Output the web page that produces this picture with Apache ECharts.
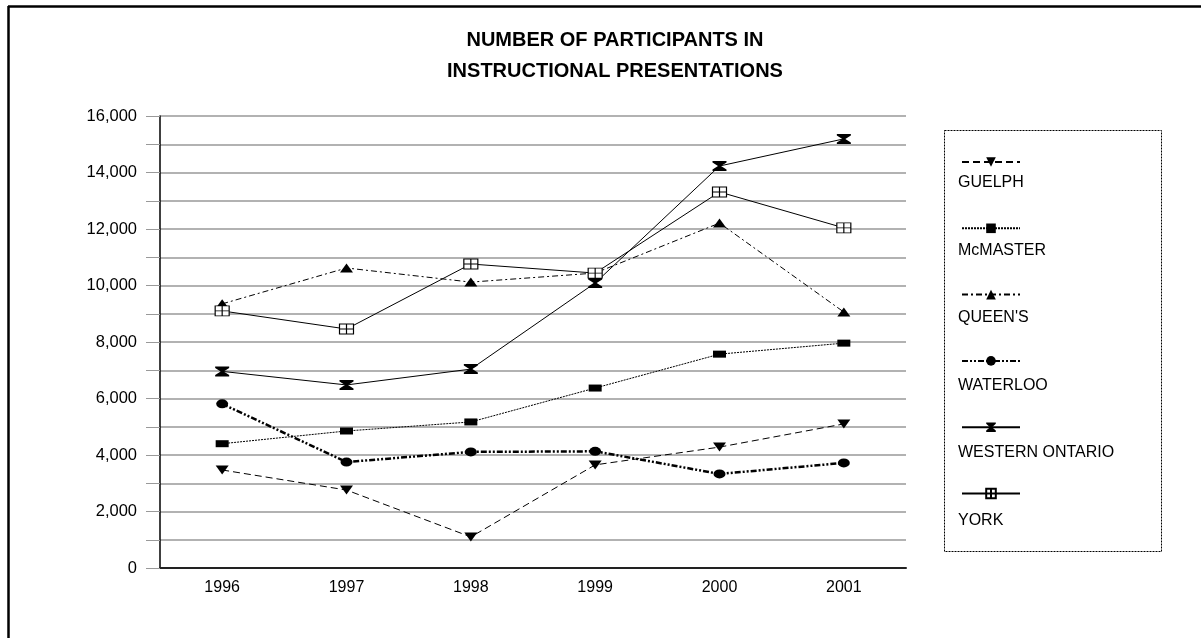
<!DOCTYPE html>
<html>
<head>
<meta charset="utf-8">
<script src="https://cdn.jsdelivr.net/npm/echarts@6/dist/echarts.min.js"></script>
<style>
  html, body { margin: 0; padding: 0; background: #fff; }
  #chart { width: 1201px; height: 638px; }
</style>
</head>
<body>
<div id="chart"></div>
<script>
// Participants in instructional presentations, by university and year
const years = ['1996', '1997', '1998', '1999', '2000', '2001'];
const guelph   = [3470, 2760, 1100, 3650, 4280, 5100];
const mcmaster = [4400, 4850, 5170, 6370, 7570, 7960];
const queens   = [9350, 10620, 10120, 10440, 12210, 9060];
const waterloo = [5810, 3750, 4110, 4130, 3330, 3720];
const western  = [6960, 6480, 7040, 10090, 14230, 15190];
const york     = [9100, 8460, 10760, 10440, 13310, 12040];
const names = ['GUELPH', 'McMASTER', "QUEEN'S", 'WATERLOO', 'WESTERN ONTARIO', 'YORK'];
const titleLines = ['NUMBER OF PARTICIPANTS IN', 'INSTRUCTIONAL PRESENTATIONS'];

const FONT = '"Liberation Sans", Arial, sans-serif';

// marker shapes
const downTri = 'path://M0,0 L12,0 L6,8 Z';
const upTri = 'path://M6,0 L12,8 L0,8 Z';
const ellipse = 'path://M0,4.5 A6,4.5 0 1,0 12,4.5 A6,4.5 0 1,0 0,4.5 Z';
const hourglass = 'path://M0,0 L14,0 L14,1.5 L8.5,5 L14,8.5 L14,10 L0,10 L0,8.5 L5.5,5 L0,1.5 Z';
const boxCross = 'path://M0,0 L14,0 L14,9 L0,9 Z M7,0 L7,9 M0,4.5 L14,4.5';

function line(name, data, lineStyle, symbol, size, itemStyle) {
  return {
    name, type: 'line', data,
    symbol, symbolSize: size, showSymbol: true,
    lineStyle: Object.assign({ color: '#000', width: 1 }, lineStyle),
    itemStyle: Object.assign({ color: '#000', borderColor: '#000', borderWidth: 0 }, itemStyle || {}),
    emphasis: { disabled: true },
    z: 3
  };
}

const series = [
  line(names[0], guelph,   { type: [7, 4] }, downTri, [13, 9]),
  line(names[1], mcmaster, { type: [2, 1] }, 'rect', [13, 7]),
  line(names[2], queens,   { type: [6, 3, 2, 3] }, upTri, [13, 9]),
  line(names[3], waterloo, { type: [6, 2, 2, 2, 2, 2], width: 2.5 }, ellipse, [12, 9]),
  line(names[4], western,  { type: 'solid' }, hourglass, [14, 10]),
  line(names[5], york,     { type: 'solid' }, boxCross, [14, 10], { color: '#fff', borderColor: '#000', borderWidth: 1 })
];

const legendTop = 151;
const legendStep = 67.5;

const chart = echarts.init(document.getElementById('chart'), null, { renderer: 'canvas' });
chart.setOption({
  animation: false,
  backgroundColor: '#fff',
  textStyle: { fontFamily: FONT },
  title: {
    text: titleLines.join('\n'),
    left: 610, top: 20, textAlign: 'center',
    textStyle: { fontFamily: FONT, fontSize: 20, fontWeight: 'bold', color: '#000', lineHeight: 31 }
  },
  grid: { left: 160, right: 295, top: 116, bottom: 70, containLabel: false },
  xAxis: {
    type: 'category', data: years, boundaryGap: true,
    axisLine: { lineStyle: { color: '#222', width: 2 } },
    axisTick: { alignWithLabel: true, length: 7, lineStyle: { color: '#666' } },
    axisLabel: { color: '#000', fontSize: 16, margin: 12, fontFamily: FONT },
    splitLine: { show: false }
  },
  yAxis: {
    type: 'value', min: 0, max: 16000, interval: 1000,
    axisLine: { show: true, lineStyle: { color: '#000', width: 1.5 } },
    axisTick: { show: true, length: 14, lineStyle: { color: '#999' } },
    axisLabel: {
      color: '#000', fontSize: 16.5, margin: 23, fontFamily: FONT,
      formatter: v => (v % 2000 === 0 ? v.toLocaleString('en-US') : '')
    },
    splitLine: { show: true, lineStyle: { color: '#999', width: 1.5 } }
  },
  legend: {
    orient: 'vertical', left: 956, top: legendTop,
    itemWidth: 58, itemHeight: 12, itemGap: legendStep - 12,
    formatter: () => '',
    selectedMode: false,
    data: names
  },
  graphic: [
    // outer frame (top and left edges)
    { type: 'line', shape: { x1: 8, y1: 6.5, x2: 1201, y2: 6.5 }, style: { stroke: '#000', lineWidth: 2.5 } },
    { type: 'line', shape: { x1: 8.5, y1: 6, x2: 8.5, y2: 638 }, style: { stroke: '#000', lineWidth: 2.5 } },
    // legend box
    { type: 'rect', shape: { x: 944.5, y: 130.5, width: 217, height: 421 },
      style: { fill: 'none', stroke: '#000', lineWidth: 1, lineDash: [2, 1] } }
  ].concat(names.map((n, i) => ({
    type: 'text',
    x: 958, y: legendTop + 32 + i * legendStep,
    style: { text: n, fill: '#000', font: '16px ' + FONT, textVerticalAlign: 'middle' }
  }))),
  series
});
</script>
</body>
</html>
